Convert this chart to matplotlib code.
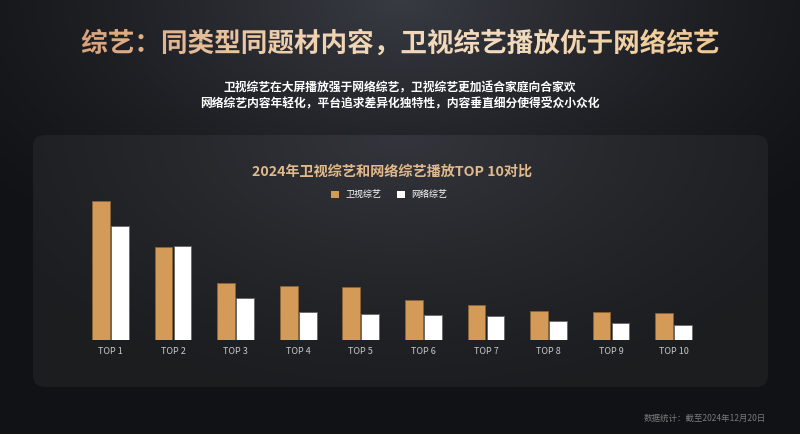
import numpy as np
import matplotlib.pyplot as plt
from matplotlib.patches import FancyBboxPatch, Rectangle, PathPatch
from matplotlib.textpath import TextPath
from matplotlib.font_manager import FontProperties
from matplotlib.colors import LinearSegmentedColormap
import matplotlib.transforms as mtransforms

plt.rcParams['font.family'] = ['Noto Sans CJK SC', 'DejaVu Sans']

# data (relative heights)
labels = ["TOP 1", "TOP 2", "TOP 3", "TOP 4", "TOP 5", "TOP 6", "TOP 7", "TOP 8", "TOP 9", "TOP 10"]
weishi = [139, 93, 57, 54, 53, 40, 35, 29, 28, 27]   # 卫视综艺
wangluo = [114, 94, 42, 28, 26, 25, 24, 19, 17, 15]  # 网络综艺

c_gold = "#d39a58"
c_white = "#ffffff"

W, H = 800, 434
fig = plt.figure(figsize=(8, 4.34), dpi=100)

# Hintergrund mit Verlauf
bg = fig.add_axes([0, 0, 1, 1])
bg.set_xlim(0, W)
bg.set_ylim(H, 0)
bg.axis("off")
yy, xx = np.mgrid[0:H, 0:W]
d = np.sqrt(((xx - 400) / 520.0) ** 2 + ((yy - 0) / 300.0) ** 2)
v = np.clip(1 - d, 0, 1)
base = np.array([0.07, 0.073, 0.085])
top = np.array([0.22, 0.23, 0.26])
img = base + (top - base) * v[..., None] ** 1.3
bg.imshow(img, extent=[0, W, H, 0], zorder=0)

# Panel
panel = FancyBboxPatch((33, 135), 735, 252, boxstyle="round,pad=0,rounding_size=12",
                       fc="none", ec="none", zorder=1)
bg.add_patch(panel)
d2 = np.sqrt(((xx - 400) / 450.0) ** 2 + ((yy - 135) / 260.0) ** 2)
v2 = np.clip(1 - d2, 0, 1)
pbase = np.array([0.11, 0.115, 0.125])
ptop = np.array([0.2, 0.21, 0.235])
pimg = pbase + (ptop - pbase) * v2[..., None] ** 1.2
im2 = bg.imshow(pimg, extent=[0, W, H, 0], zorder=1)
im2.set_clip_path(panel)

# Titel mit Farbverlauf
title = "综艺：同类型同题材内容，卫视综艺播放优于网络综艺"
fp = FontProperties(family="Noto Sans CJK SC", weight="bold")
tp = TextPath((0, 0), title, size=26.6, prop=fp)
ext = tp.get_extents()
tr = mtransforms.Affine2D().translate(-(ext.x0 + ext.x1) / 2, -(ext.y0 + ext.y1) / 2).scale(1, -1).translate(400, 42)
tpatch = PathPatch(tr.transform_path(tp), fc="none", ec="none", transform=bg.transData)
bg.add_patch(tpatch)
cmap = LinearSegmentedColormap.from_list("gold", ["#d9a27a", "#f0d2b0", "#f3dcc0", "#f0c890"])
grad = np.tile(np.linspace(0, 1, 400), (20, 1))
im3 = bg.imshow(grad, cmap=cmap, extent=[ext.width * -0.5 + 400 - 2, ext.width * 0.5 + 400 + 2, 60, 24],
                zorder=3, aspect="auto")
im3.set_clip_path(tpatch)
bg.set_xlim(0, W)
bg.set_ylim(H, 0)

bg.text(400, 88, "卫视综艺在大屏播放强于网络综艺，卫视综艺更加适合家庭向合家欢", color="white",
        fontsize=8.5, fontweight="bold", ha="center", va="center", zorder=3)
bg.text(400, 104, "网络综艺内容年轻化，平台追求差异化独特性，内容垂直细分使得受众小众化", color="white",
        fontsize=8.5, fontweight="bold", ha="center", va="center", zorder=3)
bg.text(392, 172, "2024年卫视综艺和网络综艺播放TOP 10对比", color="#e2b98a",
        fontsize=10.2, fontweight="bold", ha="center", va="center", zorder=3)
bg.text(766, 418, "数据统计：截至2024年12月20日", color="#7a7a7a",
        fontsize=6.1, ha="right", va="center", zorder=3)

# Legende
bg.add_patch(Rectangle((331, 190.5), 7.5, 7.5, fc=c_gold, ec="none", zorder=3))
bg.text(345, 194.5, "卫视综艺", color="white", fontsize=6.5, va="center", zorder=3)
bg.add_patch(Rectangle((397, 190.5), 7.5, 7.5, fc=c_white, ec="none", zorder=3))
bg.text(411, 194.5, "网络综艺", color="white", fontsize=6.5, va="center", zorder=3)

# Balkendiagramm
ax = fig.add_axes([79.3 / W, (H - 340) / H, 625.5 / W, 150 / H])
ax.patch.set_alpha(0)
x = np.arange(len(labels))
w = 0.283
ax.bar(x - 0.152, weishi, w, color=c_gold, edgecolor="#8a6438", linewidth=0.6, zorder=2)
ax.bar(x + 0.152, wangluo, w, color=c_white, edgecolor="#666666", linewidth=0.6, zorder=2)
ax.set_xlim(-0.5, len(labels) - 0.5)
ax.set_ylim(0, 150)
ax.set_xticks(x)
ax.set_xticklabels(labels, color="#c8c8c8", fontsize=6.5)
ax.tick_params(axis="x", length=0, pad=5)
ax.set_yticks([])
for s in ax.spines.values():
    s.set_visible(False)

fig.savefig("out.png", dpi=100)
